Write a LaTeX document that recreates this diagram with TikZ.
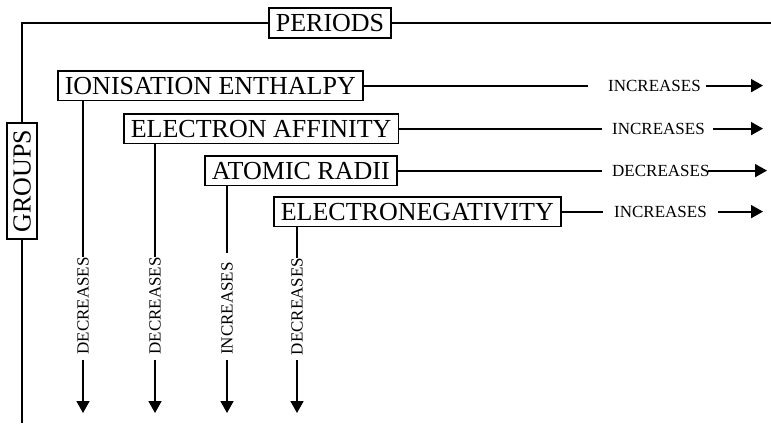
\documentclass[tikz,border=0pt]{standalone}
\usepackage{fontspec}
\setmainfont{Liberation Serif}
\usetikzlibrary{arrows.meta}
\begin{document}
\begin{tikzpicture}[x=1pt,y=-1pt,
 boxlbl/.style={draw, line width=1.6pt, fill=white, font=\fontsize{26}{26}\selectfont, text height=17.2pt, text depth=0pt, inner xsep=7pt, inner ysep=6.2pt},
 small/.style={font=\fontsize{17}{17}\selectfont, inner sep=0pt, text height=11.3pt, text depth=0pt},
 conn/.style={line width=1.8pt},
 arr/.style={line width=1.8pt, -{Triangle[length=12pt,width=13pt]}}]
\useasboundingbox (0,0) rectangle (771,423);
% boxes
\node[boxlbl] (periods) at (330,23) {PERIODS};
\node[boxlbl, rotate=90] (groups) at (22,181) {GROUPS};
\node[boxlbl, anchor=north west] (ie) at (57,70) {IONISATION ENTHALPY};
\node[boxlbl, anchor=north west] (ea) at (123,113) {ELECTRON AFFINITY};
\node[boxlbl, anchor=north west] (ar) at (204,155) {ATOMIC RADII};
\node[boxlbl, anchor=north west] (en) at (273,196) {ELECTRONEGATIVITY};
% frame
\coordinate (bot) at (22,423);
\coordinate (rt) at (771,23);
\draw[conn] (groups.east) |- (periods.west);
\draw[conn] (periods.east) -- (rt);
\draw[conn] (groups.west) -- (bot);
% horizontal labels
\node[small, anchor=west] (ieI) at (ie.east -| 608,0) {INCREASES};
\node[small, anchor=west] (eaI) at (ea.east -| 612,0) {INCREASES};
\node[small, anchor=west] (arD) at (ar.east -| 612,0) {DECREASES};
\node[small, anchor=west] (enI) at (en.east -| 614,0) {INCREASES};
\coordinate (ieR) at (ie.east -| 763,0);
\coordinate (eaR) at (ea.east -| 763,0);
\coordinate (arR) at (ar.east -| 767,0);
\coordinate (enR) at (en.east -| 763,0);
\draw[conn, shorten >=20pt] (ie.east) -- (ieI.west);
\draw[conn, shorten >=10pt] (ea.east) -- (eaI.west);
\draw[conn, shorten >=10pt] (ar.east) -- (arD.west);
\draw[conn, shorten >=11pt] (en.east) -- (enI.west);
\draw[arr, shorten <=5pt] (ieI.east) -- (ieR);
\draw[arr, shorten <=8pt] (eaI.east) -- (eaR);
\draw[arr, shorten <=-2pt] (arD.east) -- (arR);
\draw[arr, shorten <=11pt] (enI.east) -- (enR);
% vertical labels
\node[small, rotate=90] (ieD) at (83,306) {DECREASES};
\node[small, rotate=90] (eaD) at (155,306) {DECREASES};
\node[small, rotate=90] (arI) at (227,308.5) {INCREASES};
\node[small, rotate=90] (enD) at (297,306.5) {DECREASES};
\coordinate (ieE) at (83,413);
\coordinate (eaE) at (155,413);
\coordinate (arE) at (227,413);
\coordinate (enE) at (297,413);
\draw[conn] (ie.south -| ieD) -- (ieD.east);
\draw[conn] (ea.south -| eaD) -- (eaD.east);
\draw[conn, shorten >=9pt] (ar.south -| arI) -- (arI.east);
\draw[conn] (en.south -| enD) -- (enD.east);
\draw[arr, shorten <=5pt] (ieD.west) -- (ieE);
\draw[arr, shorten <=5pt] (eaD.west) -- (eaE);
\draw[arr, shorten <=5pt] (arI.west) -- (arE);
\draw[arr, shorten <=5pt] (enD.west) -- (enE);
\end{tikzpicture}
\end{document}
